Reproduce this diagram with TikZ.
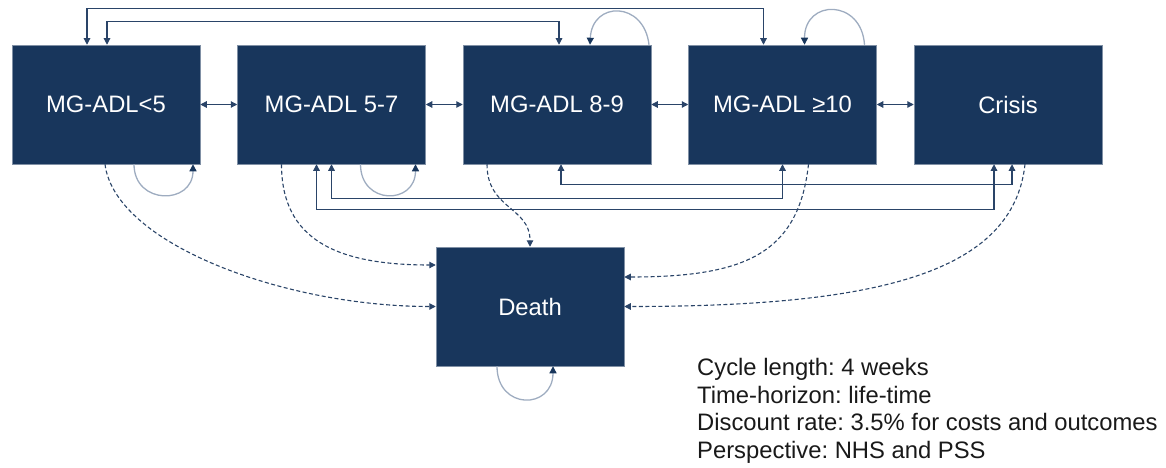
\documentclass[tikz,border=0pt]{standalone}
\usepackage{fontspec}
\setmainfont{Liberation Sans}
\usetikzlibrary{positioning,arrows.meta}
\definecolor{navy}{RGB}{24,54,92}
\definecolor{linkblue}{RGB}{42,68,104}
\definecolor{loopgrey}{RGB}{158,172,192}
\frenchspacing
\begin{document}
\begin{tikzpicture}[x=1pt, y=-1pt,
    every node/.style={font=\fontsize{23.8}{27.5}\selectfont},
    state/.style={draw=navy!55, line width=0.5pt, fill=navy, text=white,
      minimum width=188pt, minimum height=119pt, inner sep=0pt},
    biway/.style={draw=linkblue, line width=1.1pt,
      {Triangle[length=6.5pt,width=6.5pt]}-{Triangle[length=6.5pt,width=6.5pt]}},
    dieway/.style={draw=linkblue, line width=1.1pt, dash pattern=on 4pt off 2.5pt,
      -{Triangle[length=6.5pt,width=6.5pt]}},
    selfloop/.style={draw=loopgrey, line width=1.3pt,
      -{Triangle[length=7pt,width=7pt,color=navy]}}]
  \useasboundingbox (0,0) rectangle (1166,468);

  % Health states
  \node[state] (s1) at (106,104.5) {MG-ADL<5};
  \node[state, right=37pt of s1] (s2) {MG-ADL 5-7};
  \node[state, right=37pt of s2] (s3) {MG-ADL 8-9};
  \node[state, right=37pt of s3] (s4) {MG-ADL ≥10};
  \node[state, right=37pt of s4] (s5) {Crisis};
  \node[state] (death) at (530,306.5) {Death};

  % Neighbouring transitions
  \draw[biway] (s1.east) -- (s2.west);
  \draw[biway] (s2.east) -- (s3.west);
  \draw[biway] (s3.east) -- (s4.west);
  \draw[biway] (s4.east) -- (s5.west);

  % Rails above
  \draw[biway] ([xshift=-19pt]s1.north) -- ++(0,-36) -| ([xshift=-19pt]s4.north);
  \draw[biway] ([xshift=1pt]s1.north) -- ++(0,-23) -| ([xshift=2pt]s3.north);

  % Rails below
  \draw[biway] ([xshift=4pt]s3.south) -- ++(0,20) -| ([xshift=4pt]s5.south);
  \draw[biway] (s2.south) -- ++(0,34) -| (s4.south);
  \draw[biway] ([xshift=-15pt]s2.south) -- ++(0,45) -| ([xshift=-14pt]s5.south);

  % Staying in the same state
  \draw[selfloop] ([xshift=28pt]s1.south) .. controls +(0,41) and +(0,41) .. ([xshift=87pt]s1.south);
  \draw[selfloop] ([xshift=29pt]s2.south) .. controls +(0,41) and +(0,41) .. ([xshift=84pt]s2.south);
  \draw[selfloop] ([xshift=92pt]s3.north) .. controls +(-5,-44) and +(2,-44) .. ([xshift=33pt]s3.north);
  \draw[selfloop] ([xshift=82pt]s4.north) .. controls +(-3,-46) and +(0,-46) .. ([xshift=22pt]s4.north);
  \draw[selfloop] ([xshift=-33pt]death.south) .. controls +(0,44) and +(0,44) .. ([xshift=23pt]death.south);

  % Dying
  \draw[dieway] ([xshift=-1pt]s1.south) .. controls +(10,80) and +(-150,0) .. (death.west);
  \draw[dieway] ([xshift=-50pt]s2.south) .. controls +(0,75) and +(-100,0) .. ([yshift=41.5pt]death.west);
  \draw[dieway] ([xshift=-70pt]s3.south) .. controls +(0,45) and +(0,-40) .. (death.north);
  \draw[dieway] ([xshift=26pt]s4.south) .. controls +(-10,90) and +(120,0) .. ([yshift=29.5pt]death.east);
  \draw[dieway] ([xshift=17pt]s5.south) .. controls +(-12,110) and +(250,0) .. (death.east);

  % Model settings
  \node[anchor=north west, align=left, inner sep=0pt, text=black!90] (notes) at (697,358.5)
    {Cycle length: 4 weeks\\Time-horizon: life-time\\Discount rate: 3.5\% for costs and outcomes\\Perspective: NHS and PSS};
\end{tikzpicture}
\end{document}
